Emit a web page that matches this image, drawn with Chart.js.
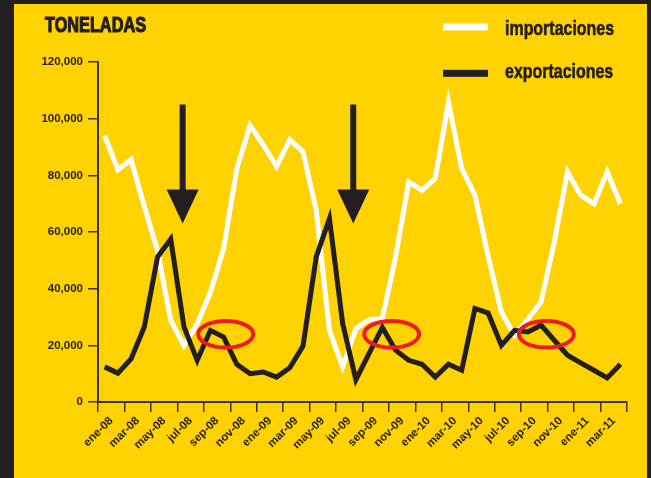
<!DOCTYPE html>
<html>
<head>
<meta charset="utf-8">
<script src="https://cdn.jsdelivr.net/npm/chart.js@4.4.1/dist/chart.umd.min.js"></script>
<style>
  html, body { margin: 0; padding: 0; background: #231f20; }
  #frame { position: absolute; left: 14px; top: 4px; width: 633px; height: 474px; background: #ffd200; }
  #wrap { position: absolute; left: 0; top: 0; width: 651px; height: 478px; }
</style>
</head>
<body>
<div id="frame"></div>
<div id="wrap"><canvas id="dataChart" width="651" height="478"></canvas></div>
<script>
const months = ['ene-08', 'feb-08', 'mar-08', 'abr-08', 'may-08', 'jun-08', 'jul-08', 'ago-08', 'sep-08', 'oct-08', 'nov-08', 'dic-08',
  'ene-09', 'feb-09', 'mar-09', 'abr-09', 'may-09', 'jun-09', 'jul-09', 'ago-09', 'sep-09', 'oct-09', 'nov-09', 'dic-09',
  'ene-10', 'feb-10', 'mar-10', 'abr-10', 'may-10', 'jun-10', 'jul-10', 'ago-10', 'sep-10', 'oct-10', 'nov-10', 'dic-10',
  'ene-11', 'feb-11', 'mar-11', 'abr-11'];

const importaciones = [94000, 82000, 85600, 69000, 53500, 28800, 20000, 27700, 38700, 54200, 82400, 97700,
  90700, 83200, 92600, 88300, 67700, 25300, 12400, 25900, 29100, 29400, 51200, 77700,
  74700, 78900, 105900, 82400, 73000, 51500, 31800, 23500, 29200, 35300, 56500, 81200,
  73000, 70000, 81200, 70000];

const exportaciones = [12400, 10200, 15200, 26500, 51200, 57500, 26500, 14700, 25300, 22900, 13300, 10000,
  10600, 8800, 12100, 19700, 51200, 64700, 27700, 7900, 17200, 26300, 18300, 14700,
  13300, 8800, 13300, 11200, 33000, 31400, 20000, 25300, 24700, 27100, 21800, 16500,
  13800, 11200, 8500, 13300];

const yTicks = [0, 20000, 40000, 60000, 80000, 100000, 120000];

// annotations: arrows and red rings, in axis units
const arrowX = [6.4, 19.3];
const arrowTop = 105000, arrowBase = 75000, arrowTip = 63000;
const ringX = [9.66, 22.2, 33.9];
const ringY = 23900;

const FONT = "'Liberation Sans', Arial, sans-serif";
const INK = '#231f20';
const AXIS = '#3b3320';

const toPoints = arr => arr.map((v, i) => ({x: i + 0.5, y: v}));

// condensed heavy text: squeeze a bold face horizontally, thicken with a thin stroke
function narrowText(ctx, text, x, y, size, squeeze, heavy) {
    ctx.save();
    ctx.font = 'bold ' + size + 'px ' + FONT;
    ctx.translate(x, y);
    ctx.scale(squeeze, 1);
    ctx.fillText(text, 0, 0);
    if (heavy) {
        ctx.strokeStyle = ctx.fillStyle;
        ctx.lineWidth = heavy;
        ctx.strokeText(text, 0, 0);
    }
    ctx.restore();
}

const decor = {
    id: 'decor',
    afterDatasetsDraw(chart) {
        const {ctx, scales: {x, y}} = chart;
        ctx.save();
        ctx.strokeStyle = '#ed1c24';
        ctx.lineWidth = 4;
        ringX.forEach(cx => {
            ctx.beginPath();
            ctx.ellipse(x.getPixelForValue(cx), y.getPixelForValue(ringY), 27.5, 13.3, 0, 0, Math.PI * 2);
            ctx.stroke();
        });
        ctx.fillStyle = INK;
        arrowX.forEach(ax => {
            const px = x.getPixelForValue(ax);
            const top = y.getPixelForValue(arrowTop);
            const base = y.getPixelForValue(arrowBase);
            const tip = y.getPixelForValue(arrowTip);
            ctx.fillRect(px - 3, top, 6, base - top + 1);
            ctx.beginPath();
            ctx.moveTo(px - 16, base);
            ctx.lineTo(px + 16, base);
            ctx.lineTo(px, tip);
            ctx.closePath();
            ctx.fill();
        });
        ctx.restore();
    },
    afterDraw(chart) {
        const ctx = chart.ctx;
        ctx.save();
        ctx.fillStyle = INK;
        ctx.textBaseline = 'alphabetic';
        narrowText(ctx, 'TONELADAS', 45, 32, 22, 0.74, 1.2);

        // legend
        const rowLine = [27, 73.3];
        const rowText = [35.3, 78.3];
        chart.data.datasets.forEach((ds, i) => {
            ctx.fillStyle = ds.borderColor;
            ctx.fillRect(443, rowLine[i] - 3.5, 45, 7);
            ctx.fillStyle = INK;
            narrowText(ctx, ds.label, 505, rowText[i], 21, 0.76, 0.6);
        });
        ctx.restore();
    }
};

const config = {
    type: 'line',
    data: {
        datasets: [
            {
                label: 'importaciones',
                data: toPoints(importaciones),
                borderColor: '#ffffff',
                borderWidth: 5,
                order: 1
            },
            {
                label: 'exportaciones',
                data: toPoints(exportaciones),
                borderColor: INK,
                borderWidth: 5,
                order: 0
            }
        ]
    },
    options: {
        responsive: false,
        animation: false,
        devicePixelRatio: 1,
        layout: { padding: { left: 0, right: 24, top: 62, bottom: 0 } },
        elements: {
            line: { tension: 0, borderJoinStyle: 'miter', borderCapStyle: 'butt', fill: false },
            point: { radius: 0, hoverRadius: 0 }
        },
        plugins: { legend: { display: false }, tooltip: { enabled: false } },
        scales: {
            x: {
                type: 'linear',
                min: 0,
                max: 40,
                afterBuildTicks: s => { s.ticks = Array.from({length: months.length + 1}, (_, i) => ({value: i})); },
                afterFit: s => { s.height = 76; },
                ticks: {
                    autoSkip: false,
                    maxRotation: 45,
                    minRotation: 45,
                    padding: 2,
                    color: INK,
                    font: { family: FONT, size: 11.5, weight: 'bold' },
                    callback: v => (v % 2 === 1 ? months[v - 1] : '')
                },
                grid: {
                    drawOnChartArea: false,
                    tickLength: 10,
                    lineWidth: 1.5,
                    color: c => (c.index % 2 === 0 ? AXIS : 'rgba(0,0,0,0)')
                },
                border: { color: AXIS, width: 2 }
            },
            y: {
                min: 0,
                max: 120000,
                afterBuildTicks: s => { s.ticks = yTicks.map(v => ({value: v})); },
                afterFit: s => { s.width = 98; },
                ticks: {
                    padding: 5,
                    color: INK,
                    font: { family: FONT, size: 11.5, weight: 'bold' },
                    callback: v => v.toLocaleString('en-US')
                },
                grid: { drawOnChartArea: false, tickLength: 10, lineWidth: 1.5, color: AXIS },
                border: { color: AXIS, width: 2 }
            }
        }
    },
    plugins: [decor]
};

const ctx = document.getElementById('dataChart').getContext('2d');
const myChart = new Chart(ctx, config);
</script>
</body>
</html>
